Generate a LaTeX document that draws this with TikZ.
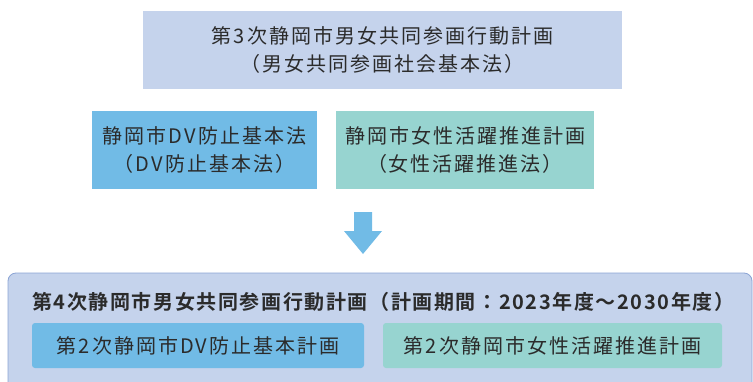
\documentclass[tikz,border=0pt]{standalone}
\usepackage{fontspec}
\newfontfamily\jp[LetterSpace=10]{Noto Sans CJK JP}
\newfontfamily\jpb[LetterSpace=8]{Noto Sans CJK JP Bold}
\definecolor{lav}{HTML}{C5D3EC}
\definecolor{lavline}{HTML}{8AA3D4}
\definecolor{dvblue}{HTML}{71BBE6}
\definecolor{teal}{HTML}{97D4D0}
\definecolor{ink}{HTML}{2B2B2B}
\tikzset{
  box/.style={inner sep=0pt, align=center, text=ink,
    font=\jp\fontsize{20}{28.5}\selectfont},
  smallbox/.style={inner sep=0pt, rounded corners=3pt, align=center, text=ink,
    font=\jp\fontsize{20}{24}\selectfont, minimum height=45pt},
}
\begin{document}
\begin{tikzpicture}[x=1pt,y=-1pt]
\useasboundingbox (0,0) rectangle (753,381);
\clip (0,0) rectangle (753,381);
% top box
\node[box, fill=lav, minimum width=479pt, minimum height=78pt] (top) at (382.5,50)
  {第3次静岡市男女共同参画行動計画\\（男女共同参画社会基本法）};
% middle boxes
\node[box, fill=dvblue, minimum width=225pt, minimum height=78pt] (dv) at (204.5,150)
  {静岡市DV防止基本法\\（DV防止基本法）};
\node[box, fill=teal, minimum width=258pt, minimum height=78pt] (wo) at (465,150)
  {静岡市女性活躍推進計画\\（女性活躍推進法）};
% arrow
\fill[dvblue] (354,212) -- (372,212) -- (372,231) -- (382,231) -- (363,254)
  -- (344,231) -- (354,231) -- cycle;
% big box
\draw[lavline, fill=lav, line width=0.8pt, rounded corners=8pt] (8,273) rectangle (752,400);
\node[anchor=west, inner sep=0pt, text=ink, font=\jpb\fontsize{20}{24}\selectfont] (title) at (32,302)
  {第4次静岡市男女共同参画行動計画（計画期間：2023年度～2030年度）};
\node[smallbox, fill=dvblue, minimum width=332pt] (dv2) at (198,345.5)
  {第2次静岡市DV防止基本計画};
\node[smallbox, fill=teal, minimum width=339pt] (wo2) at (552.5,345.5)
  {第2次静岡市女性活躍推進計画};
\end{tikzpicture}
\end{document}
